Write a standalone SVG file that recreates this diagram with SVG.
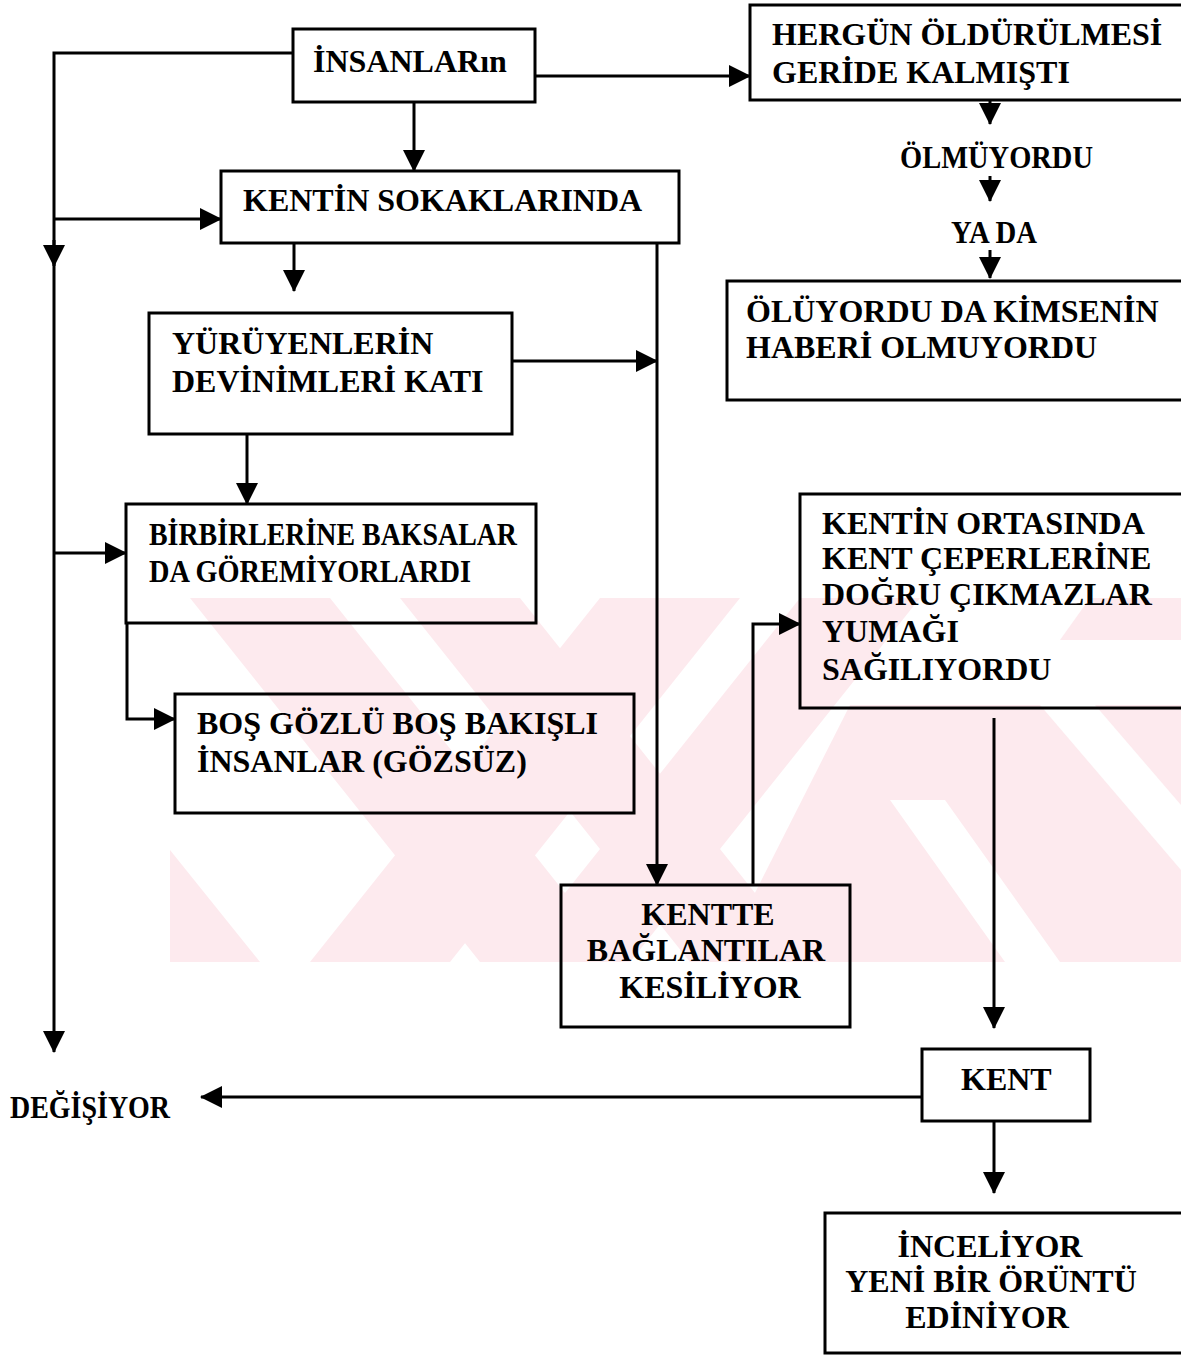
<svg xmlns="http://www.w3.org/2000/svg" width="1181" height="1357" viewBox="0 0 1181 1357">
  <defs>
    <marker id="arrow" markerUnits="userSpaceOnUse" markerWidth="22" markerHeight="22" refX="21" refY="11" orient="auto">
      <path d="M0,0 L22,11 L0,22 z" fill="#000"/>
    </marker>
    <clipPath id="wm-clip">
      <rect x="170" y="598" width="1011" height="364"/>
    </clipPath>
  </defs>
  <style>
    .box { fill: none; stroke: #000; stroke-width: 3; }
    .wire { fill: none; stroke: #000; stroke-width: 3; }
    .lbl { font-family: "Liberation Serif", "Times New Roman", serif; font-weight: bold; font-size: 32px; fill: #000; }
    .mid { text-anchor: middle; }
    .wm { fill: #fdeaee; }
    .gap { fill: #fff; }
  </style>

  <rect width="1181" height="1357" fill="#fff"/>

  <!-- faint background emblem -->
  <g id="emblem" clip-path="url(#wm-clip)">
    <polygon class="wm" points="190,598 330,598 620,962 480,962"/>
    <polygon class="wm" points="400,598 520,598 810,962 690,962"/>
    <polygon class="wm" points="600,598 740,598 450,962 310,962"/>
    <polygon class="wm" points="170,850 260,962 170,962"/>
    <polygon class="wm" points="800,598 920,598 630,962 510,962"/>
    <polygon class="wm" points="1090,598 1181,598 1181,640 1060,640"/>
    <polygon class="wm" points="850,705 1181,705 1181,962 720,962"/>
    <polygon class="gap" points="890,800 945,800 1060,962 1005,962"/>
    <polygon class="gap" points="1040,705 1095,705 1181,805 1181,870"/>
  </g>

  <!-- connectors -->
  <g id="connectors">
    <path class="wire" d="M293,53 H54 V1052" marker-end="url(#arrow)"/>
    <path class="wire" d="M54,240 V266" marker-end="url(#arrow)"/>
    <path class="wire" d="M54,219 H221" marker-end="url(#arrow)"/>
    <path class="wire" d="M54,553 H126" marker-end="url(#arrow)"/>
    <path class="wire" d="M535,76 H750" marker-end="url(#arrow)"/>
    <path class="wire" d="M414,102 V171" marker-end="url(#arrow)"/>
    <path class="wire" d="M294,243 V291" marker-end="url(#arrow)"/>
    <path class="wire" d="M657,243 V885" marker-end="url(#arrow)"/>
    <path class="wire" d="M512,361 H657" marker-end="url(#arrow)"/>
    <path class="wire" d="M247,434 V504" marker-end="url(#arrow)"/>
    <path class="wire" d="M127,623 V719 H175" marker-end="url(#arrow)"/>
    <path class="wire" d="M753,885 V624 H800" marker-end="url(#arrow)"/>
    <path class="wire" d="M994,718 V1028" marker-end="url(#arrow)"/>
    <path class="wire" d="M922,1097 H201" marker-end="url(#arrow)"/>
    <path class="wire" d="M994,1121 V1193" marker-end="url(#arrow)"/>
    <path class="wire" d="M990,100 V124" marker-end="url(#arrow)"/>
    <path class="wire" d="M990,176 V201" marker-end="url(#arrow)"/>
    <path class="wire" d="M990,250 V278" marker-end="url(#arrow)"/>
  </g>

  <g id="insanlarin">
    <rect class="box" x="293" y="29" width="242" height="73"/>
    <text class="lbl" x="313" y="72">İNSANLARın</text>
  </g>

  <g id="hergun">
    <rect class="box" x="750" y="5" width="460" height="95"/>
    <text class="lbl" x="772" y="45">HERGÜN ÖLDÜRÜLMESİ</text>
    <text class="lbl" x="772" y="83">GERİDE KALMIŞTI</text>
  </g>

  <g id="olmuyordu">
    <text class="lbl" x="900" y="168" textLength="193" lengthAdjust="spacingAndGlyphs">ÖLMÜYORDU</text>
  </g>

  <g id="yada">
    <text class="lbl" x="951" y="243" textLength="86" lengthAdjust="spacingAndGlyphs">YA DA</text>
  </g>

  <g id="oluyordu">
    <rect class="box" x="727" y="281" width="480" height="119"/>
    <text class="lbl" x="746" y="322">ÖLÜYORDU DA KİMSENİN</text>
    <text class="lbl" x="746" y="358">HABERİ OLMUYORDU</text>
  </g>

  <g id="kentin-sokaklarinda">
    <rect class="box" x="221" y="171" width="458" height="72"/>
    <text class="lbl" x="243" y="211">KENTİN SOKAKLARINDA</text>
  </g>

  <g id="yuruyenlerin">
    <rect class="box" x="149" y="313" width="363" height="121"/>
    <text class="lbl" x="172" y="354">YÜRÜYENLERİN</text>
    <text class="lbl" x="172" y="392">DEVİNİMLERİ KATI</text>
  </g>

  <g id="birbirlerine">
    <rect class="box" x="126" y="504" width="410" height="119"/>
    <text class="lbl" x="149" y="545" textLength="368" lengthAdjust="spacingAndGlyphs">BİRBİRLERİNE BAKSALAR</text>
    <text class="lbl" x="149" y="582" textLength="322" lengthAdjust="spacingAndGlyphs">DA GÖREMİYORLARDI</text>
  </g>

  <g id="bos-gozlu">
    <rect class="box" x="175" y="694" width="459" height="119"/>
    <text class="lbl" x="197" y="734">BOŞ GÖZLÜ BOŞ BAKIŞLI</text>
    <text class="lbl" x="197" y="772">İNSANLAR (GÖZSÜZ)</text>
  </g>

  <g id="kentin-ortasinda">
    <rect class="box" x="800" y="494" width="410" height="214"/>
    <text class="lbl" x="822" y="534">KENTİN ORTASINDA</text>
    <text class="lbl" x="822" y="569">KENT ÇEPERLERİNE</text>
    <text class="lbl" x="822" y="605">DOĞRU ÇIKMAZLAR</text>
    <text class="lbl" x="822" y="642">YUMAĞI</text>
    <text class="lbl" x="822" y="680">SAĞILIYORDU</text>
  </g>

  <g id="kentte">
    <rect class="box" x="561" y="885" width="289" height="142"/>
    <text class="lbl mid" x="708" y="925">KENTTE</text>
    <text class="lbl mid" x="706" y="961">BAĞLANTILAR</text>
    <text class="lbl mid" x="710" y="998">KESİLİYOR</text>
  </g>

  <g id="kent">
    <rect class="box" x="922" y="1049" width="168" height="72"/>
    <text class="lbl" x="961" y="1090">KENT</text>
  </g>

  <g id="degisiyor">
    <text class="lbl" x="10" y="1118" textLength="160" lengthAdjust="spacingAndGlyphs">DEĞİŞİYOR</text>
  </g>

  <g id="inceliyor">
    <rect class="box" x="825" y="1213" width="380" height="140"/>
    <text class="lbl mid" x="990" y="1257">İNCELİYOR</text>
    <text class="lbl mid" x="991" y="1292">YENİ BİR ÖRÜNTÜ</text>
    <text class="lbl mid" x="987" y="1328">EDİNİYOR</text>
  </g>
</svg>
